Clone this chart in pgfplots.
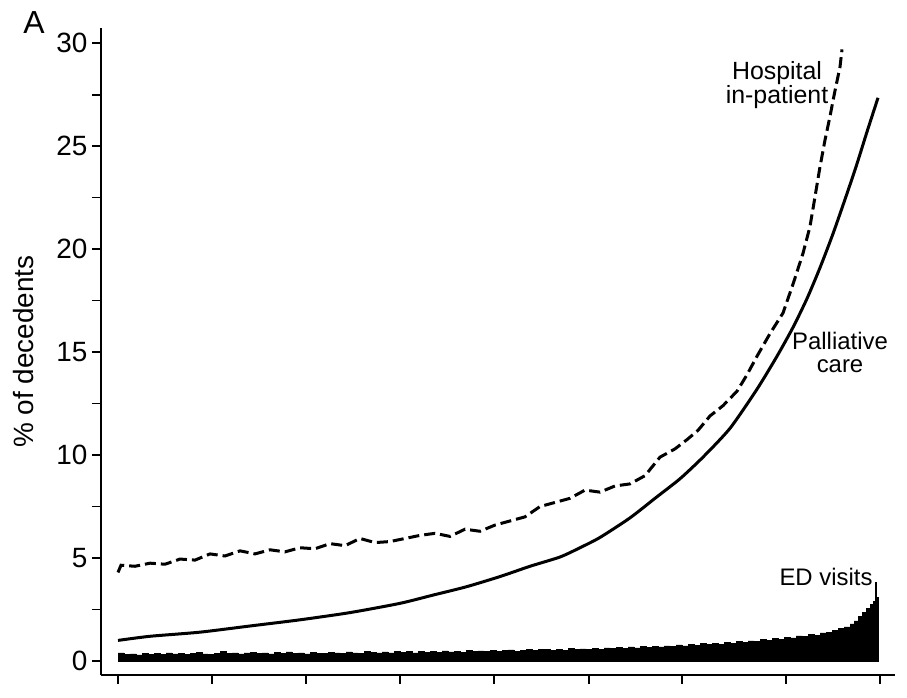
\documentclass[border=0pt]{standalone}
\usepackage{fontspec}
\setmainfont{Liberation Sans}
\usepackage{pgfplots}
\pgfplotsset{compat=1.18}
\begin{document}
\begin{tikzpicture}
\useasboundingbox (0,0) rectangle (907bp,698bp);
\begin{axis}[
  at={(101bp,23bp)}, anchor=south west,
  scale only axis, width=794bp, height=647bp,
  xmin=101, xmax=895, ymin=-0.68, ymax=30.74,
  axis x line*=bottom, axis y line*=left,
  axis line style={line width=1.6bp, -},
  tick style={line width=1.6bp, black},
  tick align=outside, major tick length=9bp, minor tick length=9bp,
  xtick={118,212,306,400,494,589,682,786,880}, xticklabels={},
  ytick={0,5,...,30}, minor ytick={2.5,7.5,...,27.5},
  yticklabel style={font=\fontsize{28}{30}\selectfont, inner sep=4.5bp},
  /pgf/number format/assume math mode=true,
  ylabel={\% of decedents},
  ylabel style={font=\fontsize{28}{30}\selectfont, at={(axis description cs:-0.098,0.5)}, anchor=center},
]
% ED visits
\addplot[const plot, fill=black, draw=black, line width=0.5bp] coordinates {
(118,0.40)(124,0.32)(130,0.35)(136,0.30)(142,0.38)(148,0.33)(154,0.36)(160,0.31)(166,0.39)(172,0.34)
(178,0.37)(184,0.32)(190,0.36)(196,0.42)(202,0.35)(208,0.33)(214,0.38)(220,0.45)(226,0.36)(232,0.40)
(238,0.34)(244,0.39)(250,0.43)(256,0.36)(262,0.40)(268,0.35)(274,0.41)(280,0.38)(286,0.44)(292,0.37)
(298,0.40)(304,0.35)(310,0.42)(316,0.38)(322,0.36)(328,0.43)(334,0.39)(340,0.37)(346,0.44)(352,0.40)
(358,0.38)(364,0.46)(370,0.41)(376,0.39)(382,0.44)(388,0.40)(394,0.47)(400,0.42)(406,0.45)(412,0.40)
(418,0.48)(424,0.43)(430,0.46)(436,0.41)(442,0.49)(448,0.44)(454,0.47)(460,0.42)(466,0.50)(472,0.46)
(478,0.49)(484,0.45)(490,0.52)(496,0.47)(502,0.50)(508,0.54)(514,0.48)(520,0.52)(526,0.56)(532,0.50)
(538,0.55)(544,0.58)(550,0.53)(556,0.57)(562,0.52)(568,0.60)(574,0.56)(580,0.59)(586,0.55)(592,0.62)
(598,0.58)(604,0.64)(610,0.60)(616,0.66)(622,0.62)(628,0.68)(634,0.64)(640,0.70)(646,0.66)(652,0.72)
(658,0.68)(664,0.74)(670,0.70)(676,0.78)(682,0.74)(688,0.80)(694,0.76)(700,0.84)(706,0.80)(712,0.86)
(718,0.82)(724,0.90)(730,0.86)(736,0.94)(742,0.90)(748,0.98)(754,0.94)(760,1.04)(766,1.00)(772,1.10)
(778,1.06)(784,1.16)(790,1.12)(796,1.22)(802,1.18)(808,1.28)(814,1.26)(820,1.36)(826,1.40)(832,1.50)
(838,1.58)(844,1.66)(850,1.80)(854,1.95)(858,2.15)(862,2.35)(866,2.55)(870,2.75)(873,2.90)(875,3.80)
(876,3.10)(878,3.00)(878.5,3.00)
} \closedcycle;
% Palliative care
\addplot[black, line width=3bp, smooth, tension=0.4] coordinates {
(118,1.0)(150,1.2)(200,1.4)(250,1.7)(300,2.0)(350,2.35)(400,2.8)(433,3.2)(466,3.6)(500,4.1)
(530,4.6)(560,5.05)(580,5.5)(600,6.0)(630,6.95)(655,7.9)(680,8.85)(703,9.9)(730,11.3)(757,13.2)
(777,14.8)(793,16.2)(807,17.6)(820,19.1)(833,20.75)(847,22.7)(857,24.15)(867,25.7)(878,27.35)
};
% Hospital in-patient
\addplot[black, line width=3bp, dash pattern=on 11bp off 5bp] coordinates {
(118,4.3)(121,4.65)(135,4.6)(150,4.75)(165,4.7)(180,4.95)(195,4.9)(210,5.2)(225,5.1)(240,5.35)
(255,5.2)(270,5.4)(285,5.3)(300,5.5)(315,5.45)(330,5.7)(345,5.6)(360,5.95)(375,5.75)(390,5.8)
(405,5.95)(420,6.1)(435,6.2)(450,6.05)(465,6.4)(480,6.3)(495,6.6)(510,6.8)(525,7.0)(540,7.5)
(555,7.7)(570,7.9)(585,8.3)(600,8.2)(615,8.5)(630,8.6)(645,9.0)(660,9.9)(675,10.3)(687,10.75)
(698,11.2)(710,11.9)(723,12.4)(737,13.1)(747,13.9)(757,14.8)(770,15.9)(783,16.9)(793,18.3)(803,19.8)
(810,21.1)(815,22.55)(820,24.0)(825,25.3)(830,26.45)(835,27.7)(840,28.85)(842,29.7)
};
\node[align=center, font=\fontsize{25}{23}\selectfont] at (axis cs:777,27.97) {Hospital\\in-patient};
\node[align=center, font=\fontsize{24}{23}\selectfont] at (axis cs:840,15.0) {Palliative\\care};
\node[font=\fontsize{24}{26}\selectfont] at (axis cs:826,4.08) {ED visits};
\end{axis}
\node[font=\fontsize{32}{34}\selectfont] at (34bp,675bp) {A};
\end{tikzpicture}
\end{document}
